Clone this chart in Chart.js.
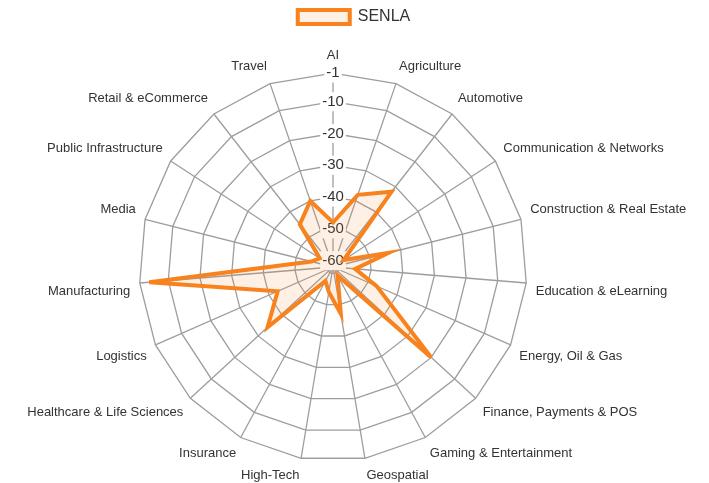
<!DOCTYPE html>
<html>
<head>
<meta charset="utf-8">
<script src="https://cdn.jsdelivr.net/npm/chart.js@4/dist/chart.umd.min.js"></script>
<style>
    html, body { margin: 0; padding: 0; background: #fff; overflow: hidden; width: 709px; height: 483px; }
    /* canvas slightly offset so the radar sits where it does in the original */
    #wrap { width: 710px; height: 486px; margin-left: -14px; }
</style>
</head>
<body>
<div id="wrap"><canvas id="radar"></canvas></div>
<script>
// --- Data ---
const CATEGORIES = [
    'AI', 'Agriculture', 'Automotive', 'Communication & Networks',
    'Construction & Real Estate', 'Education & eLearning', 'Energy, Oil & Gas',
    'Finance, Payments & POS', 'Gaming & Entertainment', 'Geospatial',
    'High-Tech', 'Insurance', 'Healthcare & Life Sciences', 'Logistics',
    'Manufacturing', 'Media', 'Public Infrastructure', 'Retail & eCommerce', 'Travel'
];

const SENLA_VALUES = [
    -48, -38, -32, -58, -44, -55, -47, -20, -59, -47,
    -54, -57, -34, -43, -4, -55, -57, -45, -40
];

const TICK_VALUES = [-60, -50, -40, -30, -20, -10, -1];

const SCALE_MIN = -62;
const SCALE_MAX = -1;

const ORANGE = '#f7821e';
const FONT = '"Liberation Sans", Arial, sans-serif';
const LEGEND_CENTER_X = 354 + 14; // page centre, in canvas coordinates
const LEGEND_TOP = -1;

Chart.defaults.font.family = FONT;
Chart.defaults.color = '#333';

// the top layout padding only pushes the radar down; keep the legend up at the top, centred on the page
const legendShift = {
    id: 'legendShift',
    afterLayout(chart) {
        const lg = chart.legend;
        if (!lg) return;
        const dx = LEGEND_CENTER_X - (lg.right + lg.left) / 2;
        const dy = LEGEND_TOP - lg.top;
        lg.left += dx;
        lg.right += dx;
        lg.top += dy;
        lg.bottom += dy;
    }
};

const ctx = document.getElementById('radar').getContext('2d');

new Chart(ctx, {
    type: 'radar',
    data: {
        labels: CATEGORIES,
        datasets: [{
            label: 'SENLA',
            data: SENLA_VALUES,
            borderColor: ORANGE,
            backgroundColor: 'rgba(247, 130, 30, 0.12)',
            borderWidth: 4,
            pointRadius: 0,
            pointHoverRadius: 0,
            fill: 'start'
        }]
    },
    plugins: [legendShift],
    options: {
        responsive: true,
        maintainAspectRatio: false,
        animation: false,
        layout: {
            padding: { top: 11 }
        },
        plugins: {
            legend: {
                labels: {
                    boxWidth: 52,
                    boxHeight: 14,
                    font: { size: 16 },
                    color: '#333'
                }
            },
            tooltip: { enabled: false }
        },
        scales: {
            r: {
                min: SCALE_MIN,
                max: SCALE_MAX,
                afterBuildTicks: (scale) => {
                    scale.ticks = TICK_VALUES.map(v => ({ value: v }));
                },
                grid: { color: '#9d9d9d', lineWidth: 1.3 },
                angleLines: { color: '#9d9d9d', lineWidth: 1.3 },
                ticks: {
                    font: { size: 15 },
                    color: '#333',
                    backdropColor: '#fff',
                    backdropPadding: 2
                },
                pointLabels: {
                    font: { size: 13 },
                    color: '#333',
                    padding: 0
                }
            }
        }
    }
});
</script>
</body>
</html>
